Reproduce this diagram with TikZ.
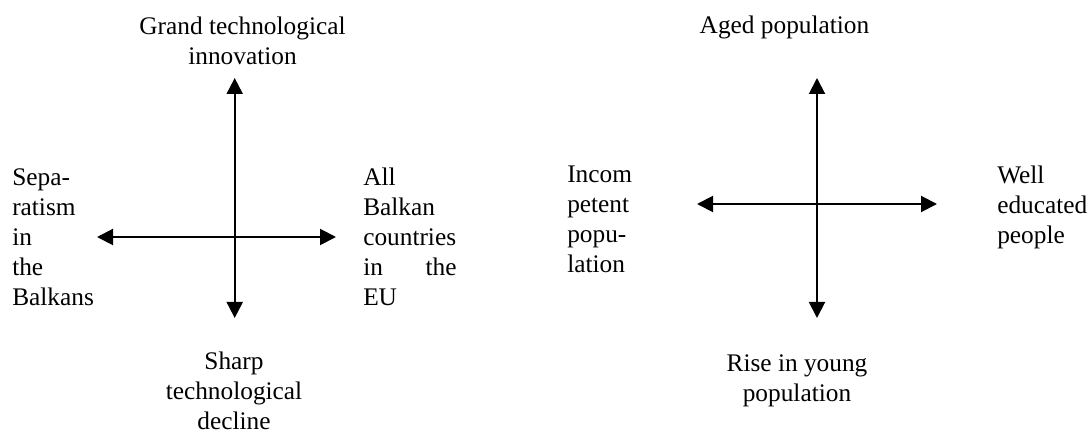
\documentclass[tikz,border=0pt]{standalone}
\usepackage{fontspec}
\setmainfont{Liberation Serif}
\usetikzlibrary{arrows.meta}

\tikzset{
  axis/.style={line width=1.5pt, {Triangle[length=12pt,width=12pt]}-{Triangle[length=12pt,width=12pt]}},
  lbl/.style={inner sep=0pt, font=\fontsize{19}{22.5}\selectfont},
  lblc/.style={lbl, align=center, anchor=north},
  lblw/.style={lbl, align=left, anchor=north west},
}

\begin{document}
\begin{tikzpicture}[x=0.75pt, y=-0.75pt]
  \useasboundingbox (0,0) rectangle (1089,434);

  % ---- technology / Balkan integration axes ----
  \coordinate (t-up)    at (234.7,78);
  \coordinate (t-down)  at (234.7,318);
  \coordinate (t-left)  at (97,237);
  \coordinate (t-right) at (336,237);
  \draw[axis] (t-down) -- (t-up);
  \draw[axis] (t-left) -- (t-right);

  \node[lblc] (t-n) at (242.5,17) {Grand technological\\innovation};
  \node[lblc] (t-s) at (234,352) {Sharp\\technological\\decline};
  \node[lblw] (t-w) at (12,168) {Sepa-\\ratism\\in\\the\\Balkans};
  \node[lblw, text width=70pt] (t-e) at (363,168) {All\\Balkan\\countries\\in\hfill the\\EU};

  % ---- population age / education axes ----
  \coordinate (p-up)    at (817,78);
  \coordinate (p-down)  at (817,318);
  \coordinate (p-left)  at (697,204);
  \coordinate (p-right) at (937,204);
  \draw[axis] (p-down) -- (p-up);
  \draw[axis] (p-left) -- (p-right);

  \node[lblc] (p-n) at (784.5,16) {Aged population};
  \node[lblc] (p-s) at (797,354) {Rise in young\\population};
  \node[lblw] (p-w) at (567,166) {Incom\\petent\\popu-\\lation};
  \node[lblw] (p-e) at (997,166) {Well\\educated\\people};
\end{tikzpicture}
\end{document}
